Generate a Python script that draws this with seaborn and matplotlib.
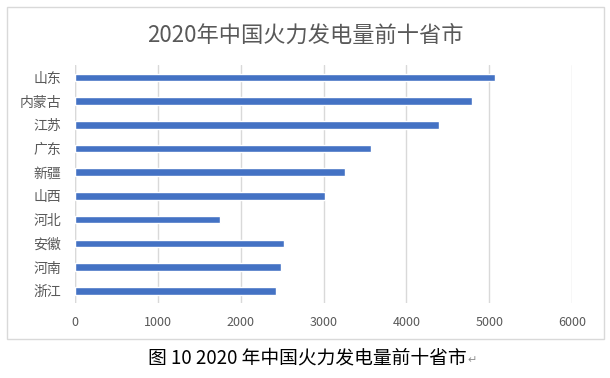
import matplotlib
matplotlib.use("Agg")
import matplotlib.pyplot as plt
import seaborn as sns
import pandas as pd
from matplotlib.patches import Rectangle

provinces = ["山东", "内蒙古", "江苏", "广东", "新疆", "山西", "河北", "安徽", "河南", "浙江"]
power = [5068, 4791, 4393, 3573, 3259, 3018, 1752, 2523, 2487, 2427]
x_ticks = [0, 1000, 2000, 3000, 4000, 5000, 6000]

title = "2020年中国火力发电量前十省市"
caption = "图 10 2020 年中国火力发电量前十省市"

df = pd.DataFrame({"province": provinces, "power": power})

sns.set_style("white")
plt.rcParams['font.family'] = ['Noto Sans CJK SC', 'DejaVu Sans']

fig = plt.figure(figsize=(6.1, 3.78), dpi=100)
ax = fig.add_axes([0.1225, 0.198, 0.8157, 0.630])

sns.barplot(data=df, x="power", y="province", orient="h", color="#4472C4",
            width=0.32, saturation=1, ax=ax, zorder=3)

ax.set_xlim(0, 6000)
ax.set_ylim(9.52, -0.52)
ax.set_xticks(x_ticks)
ax.set_xticklabels([str(t) for t in x_ticks])
ax.grid(axis="x", color="#D9D9D9", linewidth=1, zorder=0)
ax.axvline(0, color="#D9D9D9", linewidth=1, zorder=1)
for s in ax.spines.values():
    s.set_visible(False)
ax.tick_params(axis="both", length=0, colors="#595959")
ax.tick_params(axis="y", labelsize=10, pad=10)
ax.tick_params(axis="x", labelsize=9, pad=9)
ax.set_xlabel("")
ax.set_ylabel("")

# outer chart border
fig.add_artist(Rectangle((7 / 610, 1 - 339 / 378), 597 / 610, 332 / 378,
                         transform=fig.transFigure, fill=False,
                         edgecolor="#D9D9D9", linewidth=1))

fig.text(0.5, 1 - 35 / 378, title, ha="center", va="center",
         fontsize=16, color="#595959")
cap = fig.text(307 / 610, 1 - 358 / 378, caption, ha="center", va="center",
               fontsize=13.5, color="black")
fig.canvas.draw()
bb = cap.get_window_extent()
fig.text((bb.x1 + 1) / 610, 1 - 360 / 378, "↵", ha="left", va="center",
         fontsize=8, color="#909090", family=["DejaVu Sans"])

fig.savefig("out.png", dpi=100)
